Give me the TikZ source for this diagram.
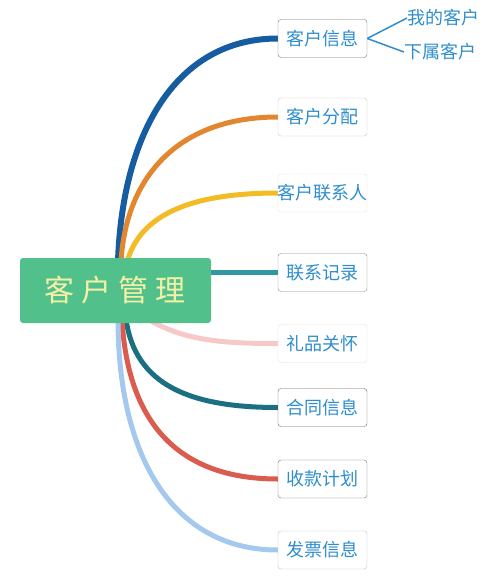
\documentclass[tikz,border=0pt]{standalone}
\usepackage{fontspec}
\newfontfamily\cjk{Noto Sans CJK SC}
\usepackage{tikz}
\usetikzlibrary{positioning, backgrounds}

\definecolor{rootgreen}{RGB}{82,192,138}
\definecolor{roottext}{RGB}{244,240,168}
\definecolor{leaftext}{RGB}{46,142,205}
\definecolor{cblue}{RGB}{22,92,160}
\definecolor{corange}{RGB}{226,135,48}
\definecolor{cyellow}{RGB}{243,188,38}
\definecolor{cteal}{RGB}{50,150,165}
\definecolor{cpink}{RGB}{246,200,200}
\definecolor{cdteal}{RGB}{26,112,130}
\definecolor{cred}{RGB}{218,92,78}
\definecolor{clblue}{RGB}{165,200,238}

\begin{document}
\begin{tikzpicture}[x=1pt, y=-1pt,
    rootbox/.style={fill=rootgreen, rounded corners=3pt, minimum width=191pt, minimum height=65pt,
      inner sep=0pt, text=roottext, font=\cjk\fontsize{30}{32}\selectfont},
    leafbox/.style={draw=#1, fill=white, rounded corners=3pt, minimum width=89pt, minimum height=38pt,
      inner sep=0pt, text=leaftext, font=\cjk\fontsize{18}{20}\selectfont},
    leafbox/.default=black!55,
    subleaf/.style={inner sep=0pt, text=leaftext, font=\cjk\fontsize{18}{20}\selectfont},
    branch/.style={line width=5pt, draw=#1},
  ]
  \useasboundingbox (0,0) rectangle (500,582);

  % central topic
  \node[rootbox] (root) at (115.5,290.5) {客\hspace{7pt}户\hspace{7pt}管\hspace{7pt}理};

  % branches
  \node[leafbox] (info) at (322.5,38.5) {客户信息};
  \node[leafbox=orange!30!black!25] (assign) at (322.5,117) {客户分配};
  \node[leafbox=yellow!40!black!20] (contact) at (322.5,193) {\hspace{-1pt}客户联系人\hspace{-1pt}};
  \node[leafbox=black!45] (record) at (322.5,272.5) {联系记录};
  \node[leafbox=red!10!black!12] (gift) at (322.5,343.5) {礼品关怀};
  \node[leafbox=black!60] (contract) at (322.5,407.5) {合同信息};
  \node[leafbox] (payment) at (322.5,479) {收款计划};
  \node[leafbox=black!25] (invoice) at (322.5,550) {发票信息};

  % sub-branches of 客户信息
  \node[subleaf, anchor=west] (mine) at (407,18) {我的客户};
  \node[subleaf, anchor=west] (sub) at (404,52) {下属客户};

  % connectors behind the boxes
  \begin{scope}[on background layer]
    \coordinate (s1) at (118,262);
    \coordinate (s2) at (121,262);
    \coordinate (s3) at (127,262);
    \coordinate (s5) at (148,319);
    \coordinate (s6) at (126,319);
    \coordinate (s7) at (122,319);
    \coordinate (s8) at (118,319);
    \draw[branch=cblue, line width=6pt] (s1) .. controls (122,135) and (175,38.5) .. (info.west);
    \draw[branch=corange] (s2) .. controls (126,175) and (180,117) .. (assign.west);
    \draw[branch=cyellow] (s3) .. controls (140,215) and (190,193) .. (contact.west);
    \draw[branch=cteal] (root.east |- record.west) -- (record.west);
    \draw[branch=cpink] (s5) .. controls (185,342) and (230,343.5) .. (gift.west);
    \draw[branch=cdteal] (s6) .. controls (135,385) and (190,407.5) .. (contract.west);
    \draw[branch=cred] (s7) .. controls (128,430) and (185,479) .. (payment.west);
    \draw[branch=clblue] (s8) .. controls (118,460) and (175,550) .. (invoice.west);
    \draw[leaftext, line width=1.5pt] (info.east) -- (mine.west);
    \draw[leaftext, line width=1.5pt] (info.east) -- (sub.west);
  \end{scope}
\end{tikzpicture}
\end{document}
